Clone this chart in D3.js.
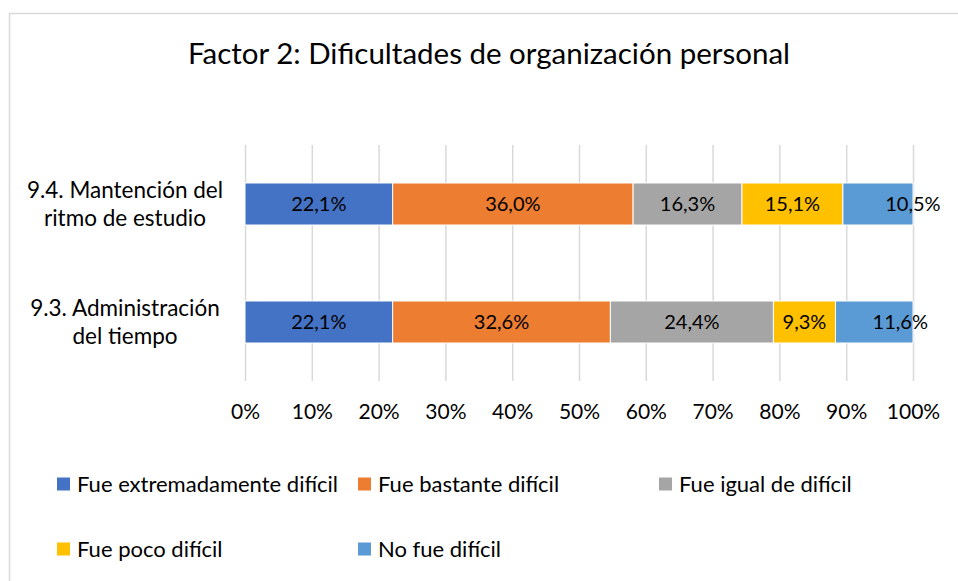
<!DOCTYPE html>
<html>
<head>
<meta charset="utf-8">
<script src="https://cdn.jsdelivr.net/npm/d3@7"></script>
<style>
  body { margin: 0; background: white; }
  text { font-family: Lato, "Noto Sans", sans-serif; fill: #000; }
</style>
</head>
<body>
<div id="chart"></div>
<script>
// categories, bottom one first (excel stacks them upwards)
let categories = ["9.3. Administración del tiempo", "9.4. Mantención del ritmo de estudio"];
let categoryLines = [["9.3. Administración", "del tiempo"], ["9.4. Mantención del", "ritmo de estudio"]];

let seriesNames = ["Fue extremadamente difícil", "Fue bastante difícil", "Fue igual de difícil", "Fue poco difícil", "No fue difícil"];
let seriesColors = ["#4472C4", "#ED7D31", "#A5A5A5", "#FFC000", "#5B9BD5"];

// percentages per series, in the same order as categories
let extremadamente = [22.1, 22.1];
let bastante = [32.6, 36.0];
let igual = [24.4, 16.3];
let poco = [9.3, 15.1];
let noFue = [11.6, 10.5];

let tickValues = [0, 10, 20, 30, 40, 50, 60, 70, 80, 90, 100];

function drawChart() {
    let width = 958;
    let height = 581;
    let plotLeft = 245, plotRight = 913;
    let plotTop = 145, plotBottom = 381;

    let svg = d3.select("#chart")
        .append("svg")
        .attr("width", width)
        .attr("height", height);

    // chart border (only left + top really show up in the frame)
    svg.append("rect")
        .attr("x", 9.5).attr("y", 13.5)
        .attr("width", 1000).attr("height", 700)
        .attr("fill", "white")
        .attr("stroke", "#d9d9d9")
        .attr("stroke-width", 1.5);

    svg.append("text")
        .attr("x", 489)
        .attr("y", 64)
        .attr("text-anchor", "middle")
        .style("font-size", "29.5px")
        .text("Factor 2: Dificultades de organización personal");

    let x = d3.scaleLinear().domain([0, 100]).range([plotLeft, plotRight]);
    let y = d3.scaleBand()
        .domain(categories.slice().reverse())
        .range([plotTop, plotBottom])
        .paddingInner(0.644)
        .paddingOuter(0.322);

    // gridlines via the axis, tick labels below
    let grid = svg.append("g")
        .attr("transform", "translate(0," + plotBottom + ")")
        .call(d3.axisBottom(x).tickValues(tickValues).tickSize(-(plotBottom - plotTop)).tickFormat(d => d + "%"));
    grid.select(".domain").remove();
    grid.selectAll("line").attr("stroke", "#d9d9d9").attr("stroke-width", 1.5);
    grid.selectAll("text")
        .attr("y", 31)
        .attr("dy", "0.35em")
        .style("font-size", "21px")
        .style("fill", "#000");

    // build table for the stack
    let table = categories.map(function(c, i) {
        return {
            category: c,
            [seriesNames[0]]: extremadamente[i],
            [seriesNames[1]]: bastante[i],
            [seriesNames[2]]: igual[i],
            [seriesNames[3]]: poco[i],
            [seriesNames[4]]: noFue[i]
        };
    });
    let stacked = d3.stack().keys(seriesNames)(table);

    // the last labels were dragged to the right in the original
    let labelNudge = { "No fue difícil": [26, 35] };

    let layers = svg.selectAll(".layer")
        .data(stacked)
        .enter().append("g")
        .attr("class", "layer")
        .attr("fill", (d, i) => seriesColors[i]);

    layers.selectAll("rect")
        .data(d => d)
        .enter().append("rect")
        .attr("x", d => x(d[0]))
        .attr("y", d => y(d.data.category))
        .attr("width", d => x(d[1]) - x(d[0]))
        .attr("height", y.bandwidth())
        .attr("stroke", "white")
        .attr("stroke-width", 1);

    layers.each(function(layer) {
        d3.select(this).selectAll("text")
            .data(layer)
            .enter().append("text")
            .attr("x", function(d, i) {
                let nudge = labelNudge[layer.key] ? labelNudge[layer.key][i] : 0;
                return (x(d[0]) + x(d[1])) / 2 + nudge;
            })
            .attr("y", d => y(d.data.category) + y.bandwidth() / 2)
            .attr("dy", "0.35em")
            .attr("text-anchor", "middle")
            .style("font-size", "20px")
            .text(d => (d[1] - d[0]).toFixed(1).replace(".", ",") + "%");
    });

    // category labels, two lines each
    categories.forEach(function(c, i) {
        let cy = y(c) + y.bandwidth() / 2;
        let t = svg.append("text")
            .attr("text-anchor", "middle")
            .style("font-size", "22.5px");
        categoryLines[i].forEach(function(line, j) {
            t.append("tspan")
                .attr("x", 125)
                .attr("y", cy + (j === 0 ? -14 : 14))
                .attr("dy", "0.35em")
                .text(line);
        });
    });

    // legend, 3 columns grid
    let legend = svg.selectAll(".legend")
        .data(seriesNames)
        .enter().append("g")
        .attr("class", "legend")
        .attr("transform", (d, i) => "translate(" + (57 + (i % 3) * 301) + "," + (484 + Math.floor(i / 3) * 65) + ")");
    legend.append("rect")
        .attr("x", 0).attr("y", -6.5)
        .attr("width", 13).attr("height", 13)
        .attr("fill", (d, i) => seriesColors[i]);
    legend.append("text")
        .attr("x", 20)
        .attr("dy", "0.35em")
        .style("font-size", "22px")
        .text(d => d);
}

window.onload = () => {
    drawChart();
}
</script>
</body>
</html>
